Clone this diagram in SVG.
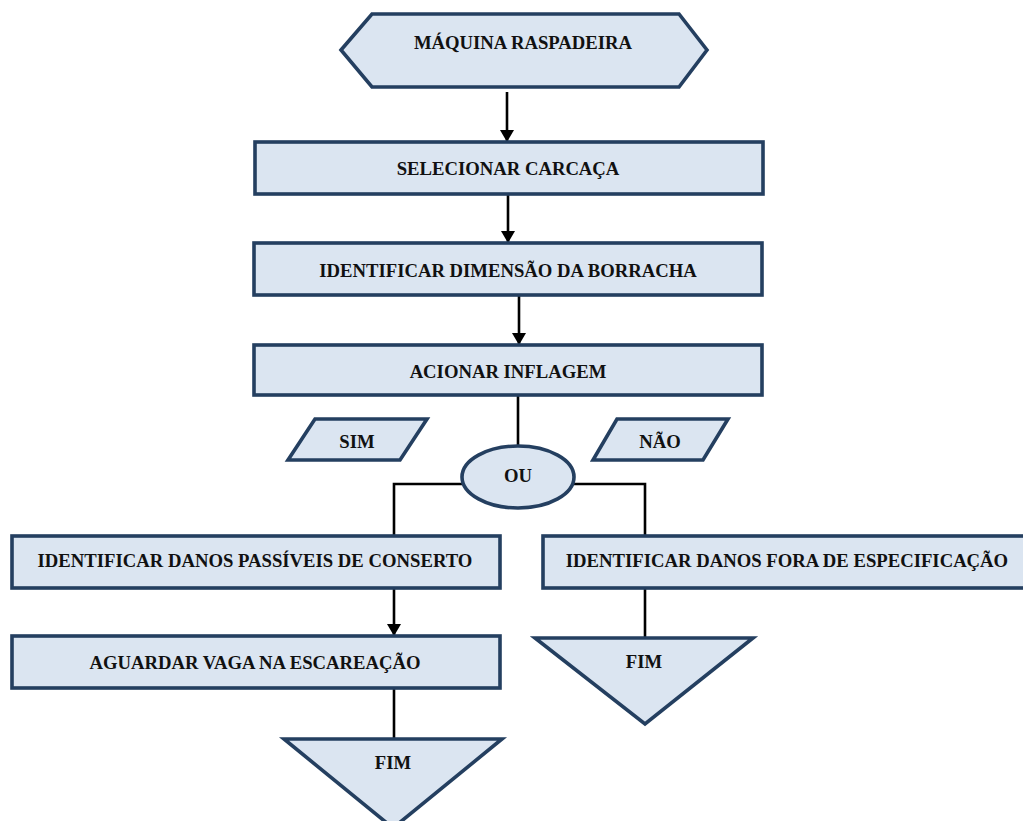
<svg xmlns="http://www.w3.org/2000/svg" width="1023" height="821" viewBox="0 0 1023 821">
  <defs>
    <style>
      .shape { fill: #dbe5f1; stroke: #243f60; stroke-width: 3.6; stroke-linejoin: miter; }
      .lbl { font-family: "Liberation Serif", "Times New Roman", serif; font-weight: bold; font-size: 18.7px; fill: #111; text-anchor: middle; }
      .conn { fill: none; stroke: #000; stroke-width: 2.6; }
    </style>
    <marker id="head" markerUnits="userSpaceOnUse" markerWidth="12" markerHeight="14" viewBox="0 0 12 14" refX="12" refY="7" orient="auto">
      <path d="M0,0 L12,7 L0,14 Z" fill="#000"/>
    </marker>
  </defs>
  <rect width="1023" height="821" fill="#fff"/>

  <!-- connectors -->
  <g id="connectors">
    <line class="conn" x1="507" y1="92" x2="507" y2="142" marker-end="url(#head)"/>
    <line class="conn" x1="508" y1="194" x2="508" y2="243" marker-end="url(#head)"/>
    <line class="conn" x1="519" y1="295" x2="519" y2="345" marker-end="url(#head)"/>
    <line class="conn" x1="518" y1="395" x2="518" y2="445"/>
    <polyline class="conn" points="462,484 394,484 394,536"/>
    <polyline class="conn" points="574,484 645,484 645,536"/>
    <line class="conn" x1="394" y1="588" x2="394" y2="636" marker-end="url(#head)"/>
    <line class="conn" x1="394" y1="688" x2="394" y2="738"/>
    <line class="conn" x1="645" y1="588" x2="645" y2="638"/>
  </g>

  <g id="maquina">
    <polygon class="shape" points="341,50 372,14 679,14 707,50 679,87 372,87"/>
    <text class="lbl" x="523" y="49">MÁQUINA RASPADEIRA</text>
  </g>

  <g id="selecionar">
    <rect class="shape" x="255" y="142" width="508" height="52"/>
    <text class="lbl" x="508" y="175">SELECIONAR CARCAÇA</text>
  </g>

  <g id="identificar-dimensao">
    <rect class="shape" x="254" y="243" width="508" height="52"/>
    <text class="lbl" x="508" y="277">IDENTIFICAR DIMENSÃO DA BORRACHA</text>
  </g>

  <g id="acionar">
    <rect class="shape" x="254" y="345" width="508" height="50"/>
    <text class="lbl" x="508" y="378">ACIONAR INFLAGEM</text>
  </g>

  <g id="sim">
    <polygon class="shape" points="315,419 427,419 400,460 288,460"/>
    <text class="lbl" x="357" y="448">SIM</text>
  </g>

  <g id="nao">
    <polygon class="shape" points="617,419 728,419 703,460 593,460"/>
    <text class="lbl" x="660" y="448">NÃO</text>
  </g>

  <g id="ou">
    <ellipse class="shape" cx="518" cy="477" rx="56" ry="31"/>
    <text class="lbl" x="518" y="482">OU</text>
  </g>

  <g id="danos-conserto">
    <rect class="shape" x="12" y="536" width="488" height="52"/>
    <text class="lbl" x="255" y="567">IDENTIFICAR DANOS PASSÍVEIS DE CONSERTO</text>
  </g>

  <g id="danos-fora">
    <rect class="shape" x="543" y="536" width="490" height="52"/>
    <text class="lbl" x="787" y="567">IDENTIFICAR DANOS FORA DE ESPECIFICAÇÃO</text>
  </g>

  <g id="aguardar">
    <rect class="shape" x="12" y="636" width="488" height="52"/>
    <text class="lbl" x="255" y="669">AGUARDAR VAGA NA ESCAREAÇÃO</text>
  </g>

  <g id="fim-direita">
    <polygon class="shape" points="535,638 753,638 645,724"/>
    <text class="lbl" x="644" y="668">FIM</text>
  </g>

  <g id="fim-esquerda">
    <polygon class="shape" points="284,739 502,739 393,828"/>
    <text class="lbl" x="393" y="769">FIM</text>
  </g>
</svg>
